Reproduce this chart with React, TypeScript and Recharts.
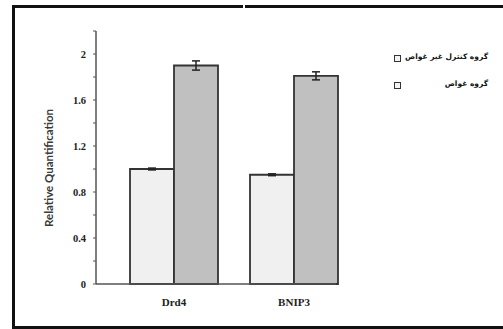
import React from 'react';
import { BarChart, Bar, XAxis, YAxis, ErrorBar } from 'recharts';

const categories = ['Drd4', 'BNIP3'];
const controlValues = [1.0, 0.95];
const controlErrors = [0.008, 0.008];
const diverValues = [1.9, 1.81];
const diverErrors = [0.04, 0.035];
const yTicks = [0, 0.2, 0.4, 0.6, 0.8, 1.0, 1.2, 1.4, 1.6, 1.8, 2.0, 2.2];
const yLabels = ['0', '0.4', '0.8', '1.2', '1.6', '2'];
const seriesNames = ['گروه کنترل غیر غواص', 'گروه غواص'];

const data = categories.map((name, i) => ({
  name,
  control: controlValues[i],
  controlErr: controlErrors[i],
  diver: diverValues[i],
  diverErr: diverErrors[i],
}));

const fmtY = (v: number) => {
  const s = String(Math.round(v * 10) / 10);
  return yLabels.includes(s) ? s : '';
};

// legend drawn outside the chart so it doesn't eat plot width
const LegendBox = () => (
  <div style={{ position: 'absolute', left: 392, top: 52, width: 100 }}>
    {seriesNames.map((n) => (
      <div key={n} style={{ position: 'relative', height: 27 }}>
        <div style={{ position: 'absolute', left: 2, top: 3, width: 5, height: 5, border: '1.5px solid #333', background: '#f4f4f4' }} />
        <div style={{ position: 'absolute', right: 4, top: 0, direction: 'rtl', fontFamily: 'DejaVu Sans', fontWeight: 'bold', fontSize: 7.5, color: '#111', whiteSpace: 'nowrap' }}>{n}</div>
      </div>
    ))}
  </div>
);

const YLabel = () => (
  <text x={48} y={168} transform="rotate(-90, 48, 168)" textAnchor="middle" dominantBaseline="central"
    fontFamily="Lato" fontSize={11.5} fontWeight={700} fill="#3a3a3a">Relative Quantification</text>
);

export default function App() {
  return (
    <div style={{ position: 'absolute', left: 0, top: 0, width: 503, height: 329, background: '#fff', overflow: 'hidden' }}>
      <div style={{ position: 'absolute', left: 12, top: 5, width: 520, height: 324, boxSizing: 'border-box', border: '3px solid #111' }} />
      <div style={{ position: 'absolute', left: 243, top: 3, width: 2, height: 8, background: '#fff' }} />
      <div style={{ position: 'absolute', left: 0, top: 0 }}>
        <BarChart width={503} height={329} data={data} margin={{ top: 31, right: 167, bottom: 15, left: 0 }}
          barCategoryGap={16} barGap={0}>
          <XAxis dataKey="name" height={30} padding={{ left: 18, right: -18 }} tickLine={false} tickSize={0} tickMargin={14}
            axisLine={{ stroke: '#555', strokeWidth: 1.5 }}
            tick={{ fontFamily: 'Liberation Serif', fontWeight: 'bold', fontSize: 11, fill: '#222' }} />
          <YAxis width={96} domain={[0, 2.2]} ticks={yTicks} tickFormatter={fmtY} interval={0} tickSize={3} tickMargin={7}
            axisLine={{ stroke: '#555', strokeWidth: 1.5 }} tickLine={{ stroke: '#555' }}
            tick={{ fontFamily: 'Liberation Serif', fontWeight: 'bold', fontSize: 10.5, fill: '#222' }}
            label={<YLabel />} />
          <Bar dataKey="control" name={seriesNames[0]} fill="#f0f0f0" stroke="#333" strokeWidth={1.8} isAnimationActive={false}>
            <ErrorBar dataKey="controlErr" width={4} stroke="#222" strokeWidth={1.5} direction="y" />
          </Bar>
          <Bar dataKey="diver" name={seriesNames[1]} fill="#c0c0c0" stroke="#333" strokeWidth={1.8} isAnimationActive={false}>
            <ErrorBar dataKey="diverErr" width={4} stroke="#222" strokeWidth={1.5} direction="y" />
          </Bar>
        </BarChart>
      </div>
      <LegendBox />
    </div>
  );
}
